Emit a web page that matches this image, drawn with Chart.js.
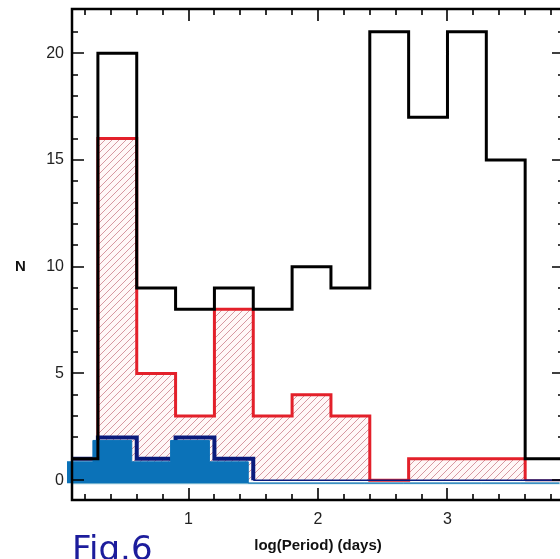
<!DOCTYPE html>
<html>
<head>
<meta charset="utf-8">
<script src="https://cdn.jsdelivr.net/npm/chart.js@4.4.1/dist/chart.umd.min.js"></script>
<style>
  html, body { margin: 0; padding: 0; background: #fff; overflow: hidden; }
  #wrap { position: relative; width: 560px; height: 559px; overflow: hidden; }
  #period-chart { position: absolute; left: 0; top: 0; }
  .lbl { position: absolute; font-family: "Liberation Sans", Arial, sans-serif; }
  #ylab { left: 15px; top: 257px; font-size: 15px; font-weight: bold; color: #111; }
  #fig { left: 72px; top: 528px; font-size: 34px; color: #1c1c9c; font-family: "DejaVu Sans", sans-serif; }
</style>
</head>
<body>
<div id="wrap">
  <canvas id="period-chart" width="566" height="559"></canvas>
  <div class="lbl" id="ylab">N</div>
  <div class="lbl" id="fig">Fig.6</div>
</div>
<script>
  // histogram bins in log(P), width 0.3
  const binEdges = [0, 0.3, 0.6, 0.9, 1.2, 1.5, 1.8, 2.1, 2.4, 2.7, 3.0, 3.3, 3.6, 3.9];
  const allCounts = [1, 20, 9, 8, 9, 8, 10, 9, 21, 17, 21, 15, 1];
  const redCounts = [0, 16, 5, 3, 8, 3, 4, 3, 0, 1, 1, 1, 0];
  const blueCounts = [1, 2, 1, 2, 1, 0, 0, 0, 0, 0, 0, 0, 0];
  const xTicks = [1, 2, 3];
  const yTicks = [0, 5, 10, 15, 20];

  const canvas = document.getElementById("period-chart");
  const ctx = canvas.getContext("2d");

  function steps(counts) {
    const pts = counts.map((c, i) => ({ x: binEdges[i], y: c }));
    pts.push({ x: binEdges[counts.length], y: counts[counts.length - 1] });
    return pts;
  }

  function hatch() {
    const s = 7;
    const c = document.createElement("canvas");
    c.width = s;
    c.height = s;
    const g = c.getContext("2d");
    g.fillStyle = "#fff7f7";
    g.fillRect(0, 0, s, s);
    g.strokeStyle = "#cc7f8a";
    g.lineWidth = 0.8;
    g.beginPath();
    g.moveTo(0, s); g.lineTo(s, 0);
    g.moveTo(-1, 1); g.lineTo(1, -1);
    g.moveTo(s - 1, s + 1); g.lineTo(s + 1, s - 1);
    g.stroke();
    return ctx.createPattern(c, "repeat");
  }

  const isFlat0 = (seg) => seg.p0.parsed.y === 0 && seg.p1.parsed.y === 0;

  // frame with inward ticks on all four sides, plus the pale baseline
  const framePlugin = {
    id: "frame",
    beforeDatasetsDraw(chart) {
      const { ctx, chartArea: a, scales: { y } } = chart;
      ctx.save();
      ctx.strokeStyle = "#92c4d6";
      ctx.lineWidth = 2;
      ctx.beginPath();
      ctx.moveTo(a.left, y.getPixelForValue(0) + 3);
      ctx.lineTo(a.right, y.getPixelForValue(0) + 3);
      ctx.stroke();
      ctx.restore();
    },
    afterDatasetDraw(chart, args) {
      const c = chart.ctx;
      if (args.index === 2) {
        // light blue fill sits a little left/down of its navy outline
        c.save();
        c.translate(-5, 3);
      } else if (args.index === 1) {
        c.restore();
      }
    },
    afterDraw(chart) {
      const { ctx, chartArea: a, scales: { x, y } } = chart;
      ctx.save();
      ctx.strokeStyle = "#000";
      ctx.lineWidth = 1.6;
      ctx.beginPath();
      for (let v = 0.2; v < 3.95; v += 0.2) {
        const px = Math.round(x.getPixelForValue(v));
        const major = Math.abs(v - Math.round(v)) < 0.01;
        const len = major ? 12 : 6;
        ctx.moveTo(px, a.bottom); ctx.lineTo(px, a.bottom - len);
        ctx.moveTo(px, a.top); ctx.lineTo(px, a.top + len);
      }
      for (let v = 0; v <= 21; v++) {
        const py = Math.round(y.getPixelForValue(v));
        const len = v % 5 === 0 ? 12 : 6;
        ctx.moveTo(a.left, py); ctx.lineTo(a.left + len, py);
        ctx.moveTo(a.right, py); ctx.lineTo(a.right - len, py);
      }
      ctx.stroke();
      ctx.lineWidth = 2.5;
      ctx.strokeRect(a.left, a.top, a.right - a.left, a.bottom - a.top);
      ctx.restore();
    },
  };

  new Chart(canvas, {
    type: "line",
    data: {
      datasets: [
        {
          label: "All",
          data: steps(allCounts),
          stepped: "before",
          borderColor: "#000",
          borderWidth: 3,
          fill: false,
          pointRadius: 0,
        },
        {
          label: "Blue fill",
          data: steps(blueCounts),
          stepped: "before",
          borderColor: "#0b72b8",
          borderWidth: 1,
          backgroundColor: "#0b72b8",
          fill: "origin",
          pointRadius: 0,
        },
        {
          label: "Blue",
          data: steps(blueCounts),
          stepped: "before",
          borderColor: "#0a1a7c",
          borderWidth: 4,
          segment: { borderWidth: (s) => (isFlat0(s) ? 1.5 : 4) },
          fill: false,
          pointRadius: 0,
        },
        {
          label: "Red",
          data: steps(redCounts),
          stepped: "before",
          borderColor: "#e3202a",
          borderWidth: 3,
          segment: {
            borderWidth: (s) => (isFlat0(s) ? 2 : 3),
            borderColor: (s) => (isFlat0(s) ? "#7a1840" : "#e3202a"),
          },
          backgroundColor: hatch(),
          fill: "origin",
          pointRadius: 0,
        },
      ],
    },
    options: {
      responsive: false,
      animation: false,
      devicePixelRatio: 1,
      layout: { padding: { top: 0, right: 2, left: 0, bottom: 0 } },
      plugins: { legend: { display: false }, tooltip: { enabled: false } },
      scales: {
        x: {
          type: "linear",
          min: 0.1,
          max: 3.9,
          border: { display: false },
          grid: { display: false, drawTicks: false },
          afterFit: (s) => { s.height = 59; },
          afterBuildTicks: (s) => { s.ticks = xTicks.map((v) => ({ value: v })); },
          ticks: {
            padding: 10,
            color: "#222",
            font: { family: "Liberation Sans, Arial, sans-serif", size: 16 },
          },
          title: {
            display: true,
            text: "log(Period) (days)",
            color: "#111",
            padding: { top: 8 },
            font: { family: "Liberation Sans, Arial, sans-serif", size: 15, weight: "bold" },
          },
        },
        y: {
          min: -0.93,
          max: 22.07,
          border: { display: false },
          grid: { display: false, drawTicks: false },
          afterFit: (s) => { s.width = 72; s.paddingTop = 9; },
          afterBuildTicks: (s) => { s.ticks = yTicks.map((v) => ({ value: v })); },
          ticks: {
            padding: 8,
            color: "#222",
            font: { family: "Liberation Sans, Arial, sans-serif", size: 16 },
          },
        },
      },
    },
    plugins: [framePlugin],
  });
</script>
</body>
</html>
